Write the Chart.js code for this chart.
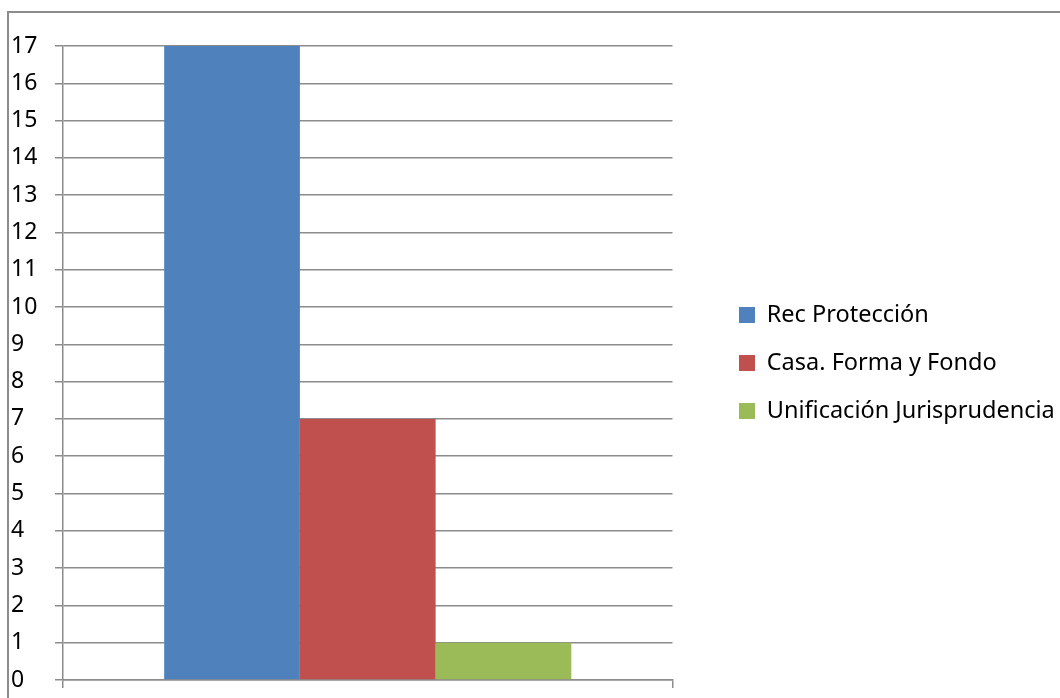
<!DOCTYPE html>
<html>
<head>
<meta charset="utf-8">
<script src="https://cdn.jsdelivr.net/npm/chart.js@4.4.1/dist/chart.umd.min.js"></script>
<style>
    html, body { margin: 0; padding: 0; background: #fff; overflow: hidden; }
    #marco {
        position: absolute;
        left: 7px;
        top: 11px;
        width: 1060px;
        height: 700px;
        border: 2px solid #8c8c8c;
    }
</style>
</head>
<body>
<div id="marco">
    <canvas id="grafico"></canvas>
</div>
<script>
const categorias = [""];
const series = ["Rec Protección", "Casa. Forma y Fondo", "Unificación Jurisprudencia"];
const valores = [[17], [7], [1]];
const colores = ["#4F81BD", "#C0504D", "#9BBB59"];
const ticksY = [0, 17, 1]; // min, max, paso

const fuente = "'Noto Sans', 'Open Sans', sans-serif";

const canvas = document.getElementById("grafico");
canvas.width = 1060;
canvas.height = 700;

new Chart(canvas.getContext("2d"), {
    type: "bar",
    data: {
        labels: categorias,
        datasets: series.map((nombre, i) => ({
            label: nombre,
            data: valores[i],
            backgroundColor: colores[i],
            borderWidth: 0,
            categoryPercentage: 0.668,
            barPercentage: 1
        }))
    },
    options: {
        responsive: false,
        animation: false,
        layout: {
            padding: { left: 2, top: 33, right: 9.5, bottom: 0 }
        },
        scales: {
            x: {
                grid: {
                    drawOnChartArea: false,
                    drawTicks: true,
                    tickLength: 8,
                    color: "#8c8c8c",
                    lineWidth: 1.5
                },
                border: { display: true, color: "#8c8c8c", width: 1.5 },
                ticks: { display: false },
                afterFit: s => { s.height = 33; }
            },
            y: {
                min: ticksY[0],
                max: ticksY[1],
                ticks: {
                    stepSize: ticksY[2],
                    crossAlign: "far",
                    color: "#000",
                    font: { family: fuente, size: 23 }
                },
                grid: {
                    color: "#8c8c8c",
                    lineWidth: 1.5,
                    tickLength: 8
                },
                border: { display: true, color: "#8c8c8c", width: 1.5 },
                afterFit: s => { s.width = 52; }
            },
            espacio: {
                type: "linear",
                position: "right",
                display: true,
                ticks: { display: false },
                grid: { display: false },
                border: { display: false },
                afterFit: s => { s.width = 42; }
            }
        },
        plugins: {
            legend: {
                position: "right",
                fullSize: false,
                maxWidth: 345,
                labels: {
                    boxWidth: 16,
                    boxHeight: 16,
                    padding: 24.5,
                    color: "#000",
                    font: { family: fuente, size: 23.5 }
                }
            },
            tooltip: { enabled: false }
        }
    }
});
</script>
</body>
</html>
